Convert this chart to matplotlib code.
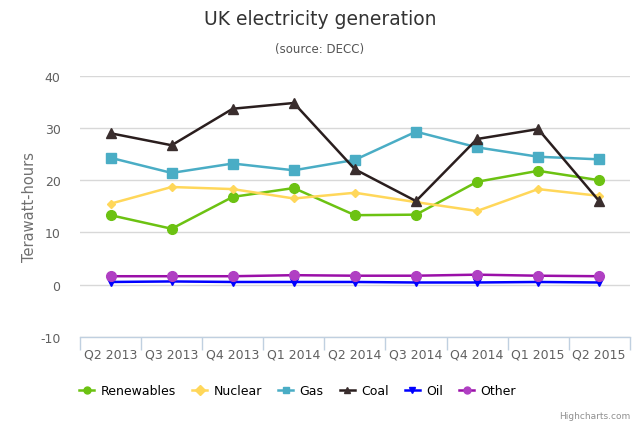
import matplotlib
matplotlib.use("Agg")
import matplotlib.pyplot as plt
import numpy as np

categories = ["Q2 2013", "Q3 2013", "Q4 2013", "Q1 2014", "Q2 2014",
              "Q3 2014", "Q4 2014", "Q1 2015", "Q2 2015"]
renewables = [13.3, 10.7, 16.8, 18.5, 13.3, 13.4, 19.7, 21.8, 20.0]
nuclear = [15.5, 18.7, 18.3, 16.5, 17.6, 15.8, 14.1, 18.3, 17.0]
gas = [24.3, 21.4, 23.2, 21.9, 23.9, 29.3, 26.3, 24.5, 24.0]
coal = [29.0, 26.7, 33.7, 34.8, 22.1, 16.0, 27.9, 29.8, 16.0]
oil = [0.5, 0.6, 0.5, 0.5, 0.5, 0.4, 0.4, 0.5, 0.4]
other = [1.6, 1.6, 1.6, 1.8, 1.7, 1.7, 1.9, 1.7, 1.6]
yticks = [-10, 0, 10, 20, 30, 40]

series = [
    ("Renewables", renewables, "#6cc212", "#6cc212", "o", 7),
    ("Nuclear", nuclear, "#ffd75a", "#ffd75a", "D", 4.5),
    ("Gas", gas, "#4aadc5", "#4aadc5", "s", 6.5),
    ("Coal", coal, "#2a1e1e", "#3a2e2e", "^", 6.5),
    ("Oil", oil, "#0000ff", "#0000ff", "v", 5.5),
    ("Other", other, "#9a0fa8", "#b03fc3", "o", 7),
]

fig = plt.figure(figsize=(6.4, 4.27), dpi=100)
ax = fig.add_axes([0.125, 0.209, 0.859, 0.611])
x = np.arange(len(categories))
for name, vals, lc, mc, mk, ms in series:
    ax.plot(x, vals, color=lc, lw=1.8, marker=mk, markersize=ms,
            markerfacecolor=mc, markeredgecolor=mc, label=name, zorder=3)

ax.set_xlim(-0.5, len(categories) - 0.5)
ax.set_ylim(-10, 40)
ax.set_yticks(yticks)
ax.set_yticklabels([str(t) for t in yticks], color="#606060", fontsize=9)
ax.tick_params(axis="y", length=0, pad=14)
ax.yaxis.grid(True, color="#d8d8d8", lw=1)
ax.set_axisbelow(True)

ax.set_xticks(x)
ax.set_xticklabels(categories, color="#606060", fontsize=9)
ax.set_xticks(np.arange(-0.5, len(categories)), minor=True)
ax.tick_params(axis="x", which="major", length=0, pad=8)
ax.tick_params(axis="x", which="minor", length=9, color="#c0d0e0", width=1)

for s in ["top", "right", "left"]:
    ax.spines[s].set_visible(False)
ax.spines["bottom"].set_color("#c0d0e0")
ax.spines["bottom"].set_linewidth(1)

ax.set_ylabel("Terawatt-hours", color="#707070", fontsize=10.5, labelpad=2)

fig.text(0.5, 0.955, "UK electricity generation", ha="center", va="center",
         fontsize=13.5, color="#333333")
fig.text(0.5, 0.885, "(source: DECC)", ha="center", va="center",
         fontsize=8.5, color="#555555")

leg = fig.legend(loc="center", bbox_to_anchor=(0.465, 0.082), ncol=6, frameon=False,
                 fontsize=9, handlelength=1.2, columnspacing=1.3, handletextpad=0.5)
for h in leg.legend_handles:
    h.set_markersize(5)

fig.text(0.985, 0.013, "Highcharts.com", ha="right", va="bottom",
         fontsize=6.5, color="#909090")

fig.savefig("out.png", dpi=100)
